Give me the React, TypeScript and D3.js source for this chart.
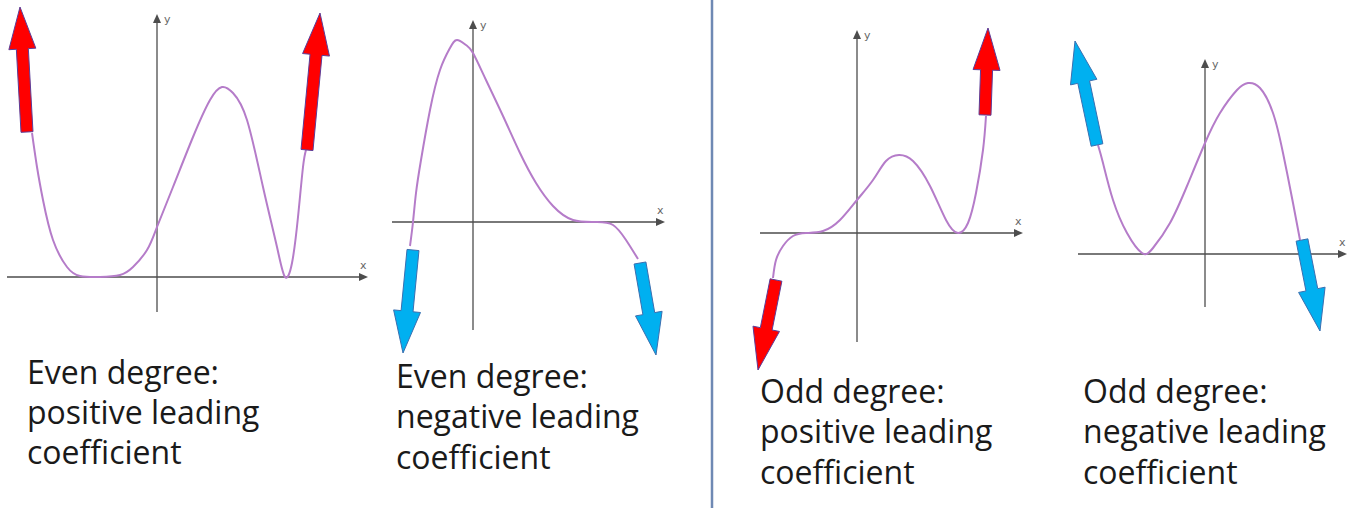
import React from "react";
import * as d3 from "d3";

type Pt = [number, number];

// curve samples (axis units, origin at axis crossing)
const evenPosCurve: Pt[] = [
  [-12.5, 14.4], [-12.0, 11.0], [-11.4, 7.7], [-10.4, 3.7], [-9.0, 1.0],
  [-7.7, 0.1], [-5.7, 0], [-3.7, 0.2], [-2.4, 1.0], [-1.0, 2.7], [0, 5.0],
  [1.6, 9.0], [3.6, 14.0], [5.3, 17.7], [6.5, 19.0], [7.6, 18.4], [9.0, 15.7],
  [10.6, 9.0], [12.0, 3.0], [12.8, 0], [13.5, 1.4], [14.1, 6.0], [14.6, 11.0],
  [14.9, 12.7],
];
const evenNegCurve: Pt[] = [
  [-6.3, -2.4], [-6.0, 0], [-5.7, 2.9], [-5.2, 6.2], [-4.3, 11.2], [-3.3, 15.2],
  [-2.3, 17.4], [-1.6, 18.2], [-0.7, 17.7], [0, 16.9], [1.3, 14.2], [3.0, 10.6],
  [4.7, 6.9], [6.3, 3.9], [8.0, 1.6], [10.0, 0.2], [12.3, 0], [14.0, -0.3],
  [15.3, -1.8], [16.5, -3.7],
];
const oddPosCurve: Pt[] = [
  [-8.4, -4.5], [-8.1, -2.7], [-7.4, -1.3], [-6.4, -0.3], [-5.1, 0], [-3.4, 0.2],
  [-1.7, 1.3], [0, 3.3], [1.6, 5.3], [2.9, 7.2], [4.2, 7.8], [5.6, 7.2],
  [7.3, 4.7], [8.9, 1.3], [10.1, 0], [11.1, 1.0], [11.9, 4.0], [12.6, 8.3],
  [12.9, 11.7],
];
const oddNegCurve: Pt[] = [
  [-10.7, 10.9], [-10.2, 9.1], [-9.2, 5.4], [-7.8, 2.1], [-6.3, 0.1], [-5.2, 0.6],
  [-3.5, 3.1], [-1.8, 6.8], [0, 11.1], [1.5, 14.1], [3.2, 16.4], [4.3, 17.1],
  [5.5, 16.6], [6.8, 14.1], [7.8, 10.1], [8.8, 5.1], [9.5, 1.4],
];

// end-behaviour arrows: [tail, tip]
const evenPosArrows: [Pt, Pt][] = [
  [[-13.0, 14.5], [-13.7, 27.0]],
  [[15.0, 12.7], [16.3, 26.4]],
];
const evenNegArrows: [Pt, Pt][] = [
  [[-6.0, -2.8], [-7.0, -13.1]],
  [[16.7, -4.1], [18.3, -13.3]],
];
const oddPosArrows: [Pt, Pt][] = [
  [[-8.1, -4.7], [-9.9, -13.7]],
  [[12.8, 11.8], [13.1, 20.5]],
];
const oddNegArrows: [Pt, Pt][] = [
  [[-10.8, 10.9], [-13.0, 21.3]],
  [[9.7, 1.4], [11.5, -7.7]],
];

const evenPosLabel = ["Even degree:", "positive leading", "coefficient"];
const evenNegLabel = ["Even degree:", "negative leading", "coefficient"];
const oddPosLabel = ["Odd degree:", "positive leading", "coefficient"];
const oddNegLabel = ["Odd degree:", "negative leading", "coefficient"];

const RED = "#ff0000";
const BLUE = "#00b0f0";
const U = 10; // px per axis unit

const panels = [
  {
    curve: evenPosCurve, arrows: evenPosArrows, fill: RED, edge: "#5b3d99",
    origin: [157, 277], xExt: [-15, 21.1], yExt: [-3.5, 26.3],
    lines: evenPosLabel, textX: 27, baselines: [384, 424, 464],
  },
  {
    curve: evenNegCurve, arrows: evenNegArrows, fill: BLUE, edge: "#3b6fb0",
    origin: [473, 222], xExt: [-8.1, 19.2], yExt: [-10.8, 20.2],
    lines: evenNegLabel, textX: 396, baselines: [388, 428, 469],
  },
  {
    curve: oddPosCurve, arrows: oddPosArrows, fill: RED, edge: "#5b3d99",
    origin: [857, 233], xExt: [-9.7, 16.6], yExt: [-10.9, 20.3],
    lines: oddPosLabel, textX: 760, baselines: [403, 443, 484],
  },
  {
    curve: oddNegCurve, arrows: oddNegArrows, fill: BLUE, edge: "#3b6fb0",
    origin: [1205, 254], xExt: [-12.7, 14.2], yExt: [-5.3, 19.5],
    lines: oddNegLabel, textX: 1083, baselines: [403, 443, 484],
  },
];

const arrowPath = (t: Pt, p: Pt) => {
  const shaft = 12;
  const head = 27;
  const headLen = 42;
  const dx = p[0] - t[0];
  const dy = p[1] - t[1];
  const len = Math.hypot(dx, dy);
  const ux = dx / len;
  const uy = dy / len;
  const nx = -uy;
  const ny = ux;
  const bx = p[0] - ux * headLen;
  const by = p[1] - uy * headLen;
  const pts: Pt[] = [
    [t[0] + nx * shaft / 2, t[1] + ny * shaft / 2],
    [bx + nx * shaft / 2, by + ny * shaft / 2],
    [bx + nx * head / 2, by + ny * head / 2],
    [p[0], p[1]],
    [bx - nx * head / 2, by - ny * head / 2],
    [bx - nx * shaft / 2, by - ny * shaft / 2],
    [t[0] - nx * shaft / 2, t[1] - ny * shaft / 2],
  ];
  return "M" + pts.map((d) => d.join(",")).join("L") + "Z";
};

const Panel = ({ cfg }: { cfg: (typeof panels)[number] }) => {
  const [ox, oy] = cfg.origin;
  const x = d3.scaleLinear().domain(cfg.xExt).range([ox + cfg.xExt[0] * U, ox + cfg.xExt[1] * U]);
  const y = d3.scaleLinear().domain(cfg.yExt).range([oy - cfg.yExt[0] * U, oy - cfg.yExt[1] * U]);
  const line = d3
    .line<Pt>()
    .x((d) => x(d[0]))
    .y((d) => y(d[1]))
    .curve(d3.curveNatural);

  const x0 = x(cfg.xExt[0]);
  const x1 = x(cfg.xExt[1]);
  const yTop = y(cfg.yExt[1]);
  const yBot = y(cfg.yExt[0]);
  const axisColor = "#4d4d4d";

  return (
    <g>
      {/* axes */}
      <line x1={x0} x2={x1 - 6} y1={y(0)} y2={y(0)} stroke={axisColor} strokeWidth={1.3} />
      <path d={`M${x1},${y(0)}L${x1 - 9},${y(0) - 4}L${x1 - 9},${y(0) + 4}Z`} fill={axisColor} />
      <line x1={x(0)} x2={x(0)} y1={yBot} y2={yTop + 6} stroke={axisColor} strokeWidth={1.3} />
      <path d={`M${x(0)},${yTop}L${x(0) - 4},${yTop + 9}L${x(0) + 4},${yTop + 9}Z`} fill={axisColor} />
      <text x={x(0) + 7} y={yTop + 9} fontSize={11} fill="#666" fontFamily="DejaVu Sans">y</text>
      <text x={x1 - 8} y={y(0) - 8} fontSize={11} fill="#666" fontFamily="DejaVu Sans">x</text>

      {/* curve */}
      <path d={line(cfg.curve) || ""} fill="none" stroke="#b57cc9" strokeWidth={2} />

      {/* arrows */}
      {cfg.arrows.map(([t, p], i) => (
        <path
          key={i}
          d={arrowPath([x(t[0]), y(t[1])], [x(p[0]), y(p[1])])}
          fill={cfg.fill}
          stroke={cfg.edge}
          strokeWidth={1}
          strokeLinejoin="round"
        />
      ))}

      {/* caption */}
      {cfg.lines.map((s, i) => (
        <text key={i} x={cfg.textX} y={cfg.baselines[i]} fontSize={32} fill="#1a1a1a" fontFamily="'Open Sans', sans-serif">
          {s}
        </text>
      ))}
    </g>
  );
};

export default function App() {
  return (
    <svg
      width={1349}
      height={508}
      style={{ position: "absolute", left: 0, top: 0, display: "block", background: "#fff" }}
    >
      <rect width={1349} height={508} fill="#fff" />
      <line x1={712} x2={712} y1={0} y2={508} stroke="#6f89b4" strokeWidth={2.5} />
      {panels.map((p, i) => (
        <Panel key={i} cfg={p} />
      ))}
    </svg>
  );
}
